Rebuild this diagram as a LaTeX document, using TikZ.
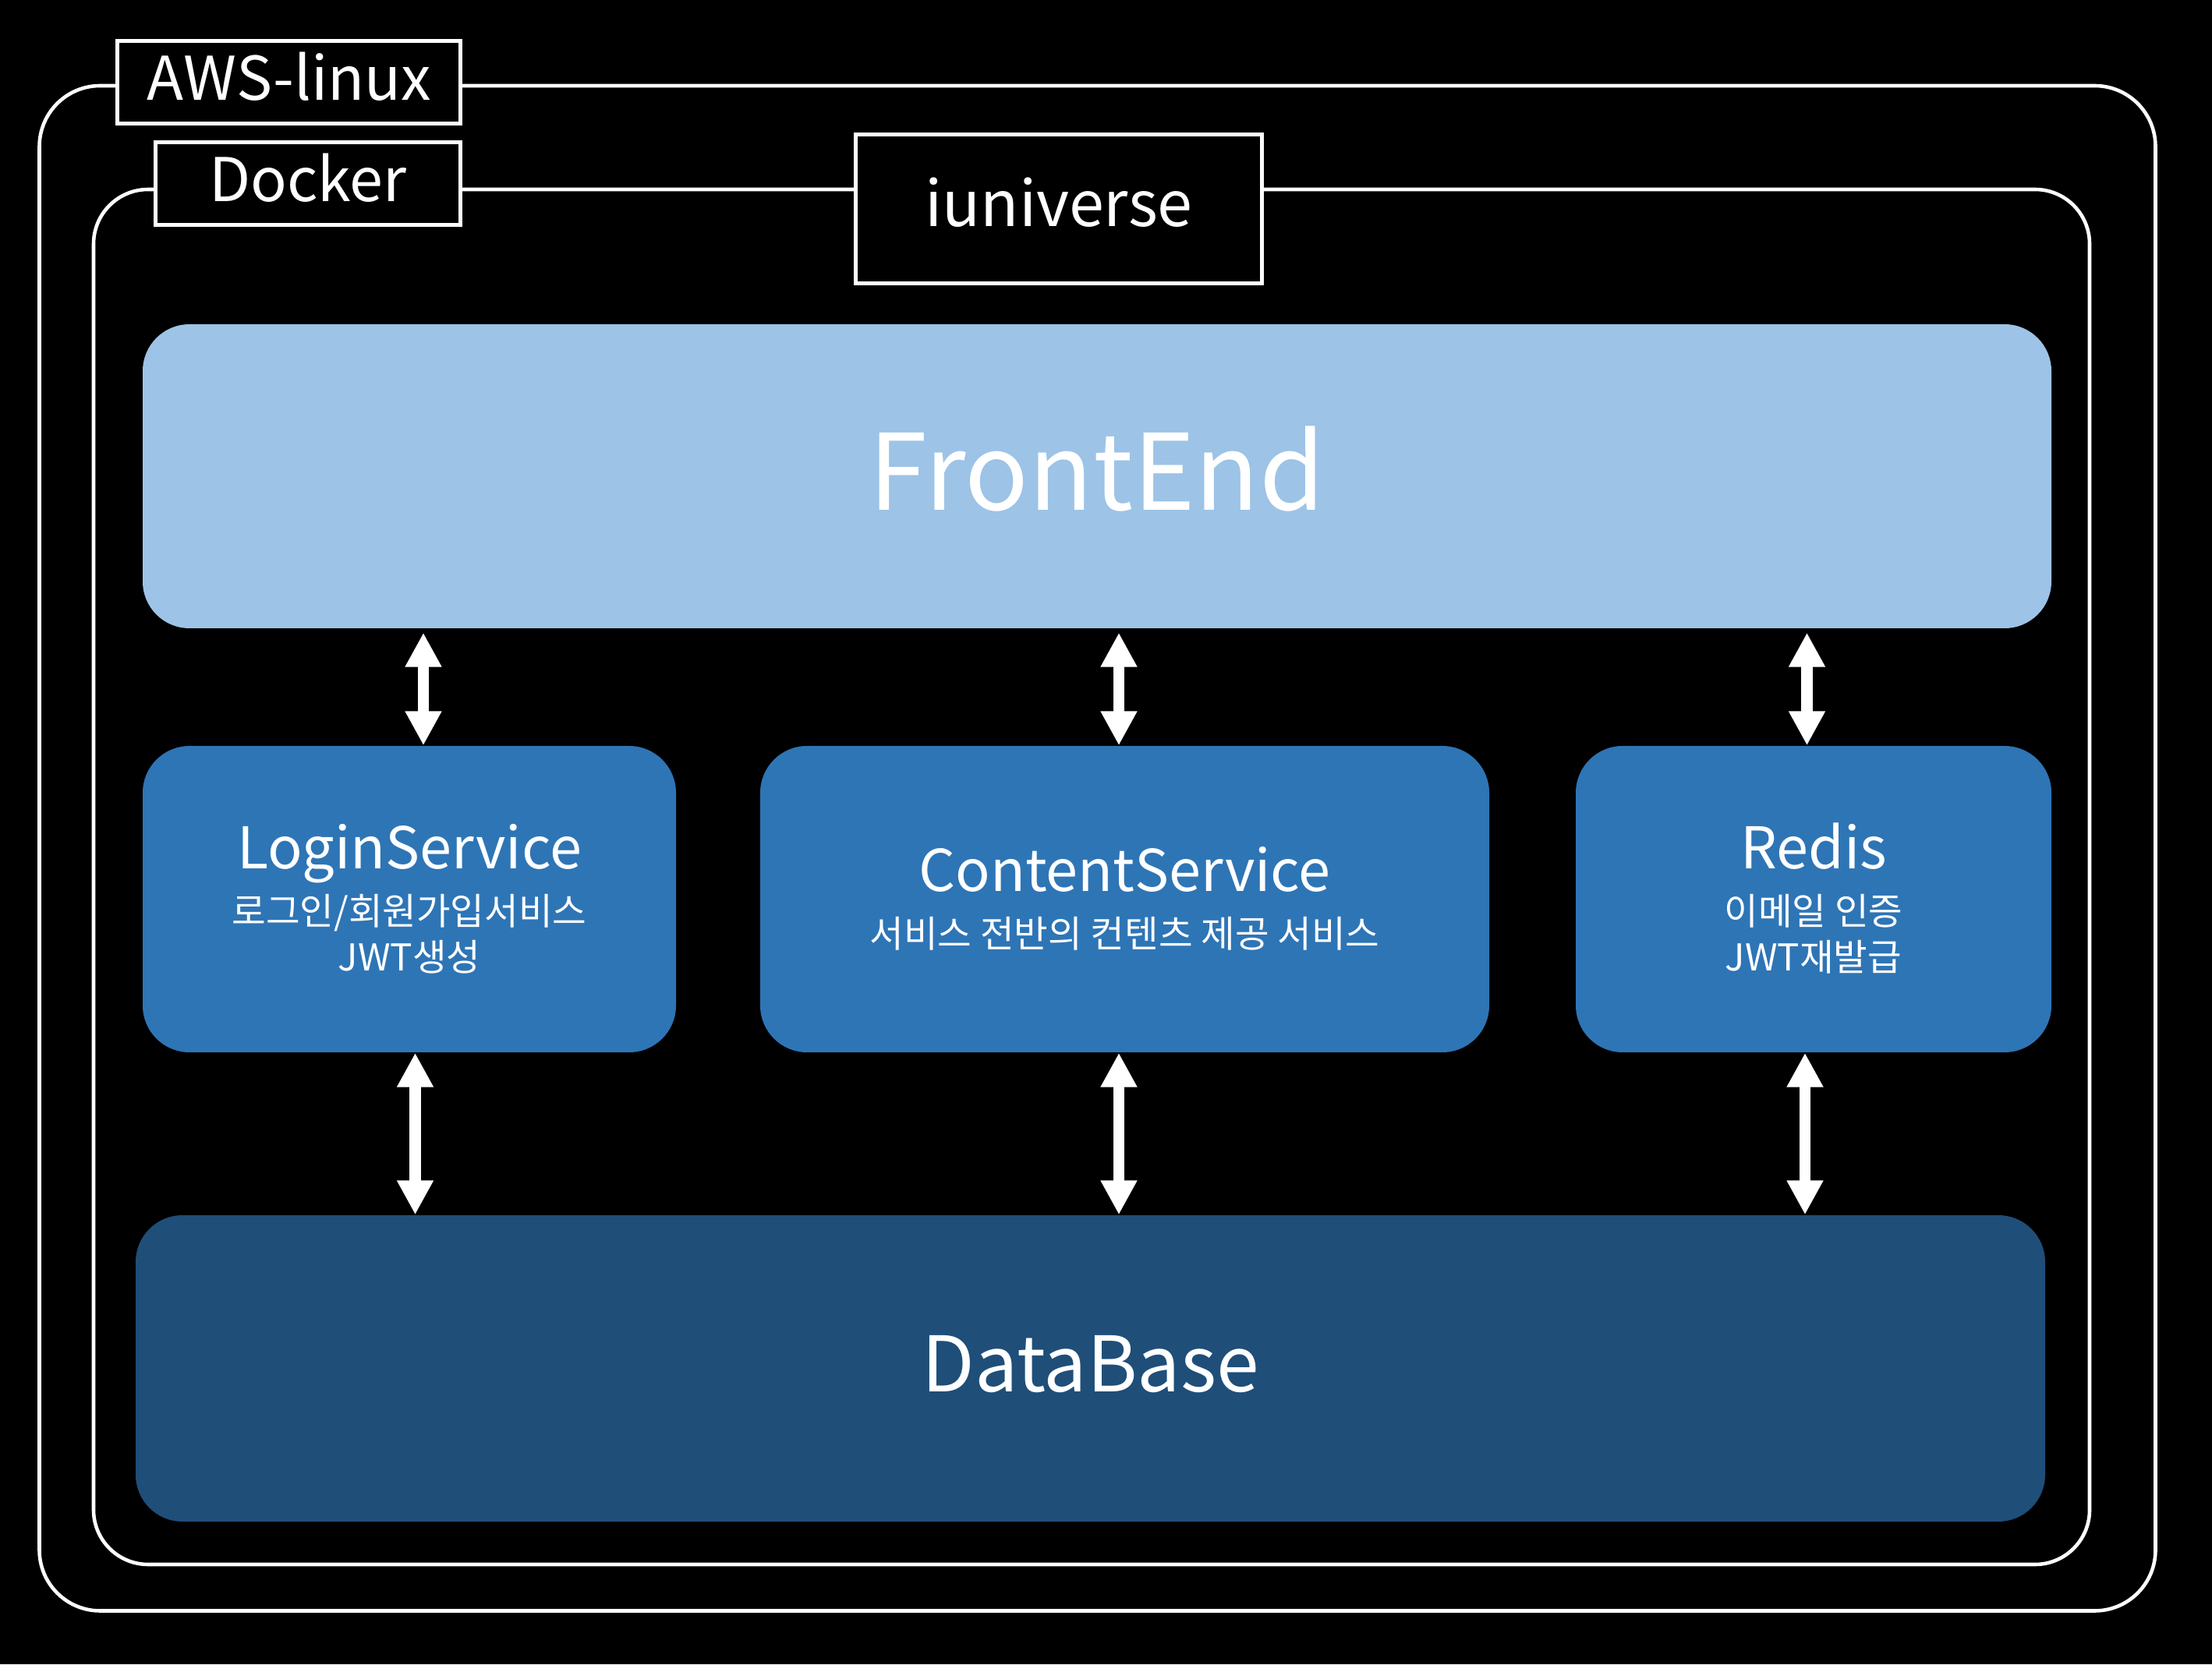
\documentclass[tikz,border=0pt]{standalone}
\usepackage{fontspec}
\setmainfont{Noto Sans CJK KR}
\usetikzlibrary{positioning,arrows.meta}
\definecolor{frontblue}{HTML}{9DC3E6}
\definecolor{svcblue}{HTML}{2E75B6}
\definecolor{dbblue}{HTML}{1F4E79}

\begin{document}
\begin{tikzpicture}[
    frame/.style={draw=white,line width=1.3pt},
    tag/.style={draw=white,fill=black,text=white,line width=1.3pt,inner sep=0pt,
        text height=15pt,text depth=2pt,font=\fontsize{22}{26}\selectfont},
    box/.style={draw=none,inner sep=0pt,rounded corners=0.6cm},
    title/.style={text=white,anchor=base,inner sep=0pt,font=\fontsize{21}{25}\selectfont},
    sub/.style={text=white,anchor=base,inner sep=0pt,font=\fontsize{13.5}{16}\selectfont},
    dbl/.style={{Triangle[width=12.5pt,length=12.5pt]}-{Triangle[width=12.5pt,length=12.5pt]},line width=4pt,white}
]
    \fill[black] (0,0) rectangle (28.37,21.35);
    \useasboundingbox (0,0) rectangle (28.37,21.35);

    \draw[frame,rounded corners=0.78cm] (0.505,0.685) rectangle (27.645,20.25);
    \draw[frame,rounded corners=0.70cm] (1.20,1.28) rectangle (26.80,18.92);
    \node[tag,minimum width=4.40cm,minimum height=1.065cm] (aws) at (3.7075,20.295) {AWS-linux};
    \node[tag,minimum width=3.915cm,minimum height=1.065cm] (docker) at (3.95,18.995) {Docker};
    \node[tag,minimum width=5.215cm,minimum height=1.915cm,font=\fontsize{23}{27}\selectfont] (iuniverse) at (13.58,18.67) {iuniverse};

    \node[box,fill=frontblue,minimum width=24.48cm,minimum height=3.90cm] (front) at (14.07,15.24) {};
    \node[box,fill=svcblue,minimum width=6.84cm,minimum height=3.93cm] (login) at (5.25,9.815) {};
    \node[box,fill=svcblue,minimum width=9.35cm,minimum height=3.93cm] (content) at (14.425,9.815) {};
    \node[box,fill=svcblue,minimum width=6.10cm,minimum height=3.93cm] (redis) at (23.26,9.815) {};
    \node[box,fill=dbblue,minimum width=24.49cm,minimum height=3.93cm] (db) at (13.985,3.795) {};

    \node[title,font=\fontsize{38.5}{44}\selectfont] (fronttxt) at ([yshift=-4.4mm]front.center) {FrontEnd};
    \node[title,font=\fontsize{28}{33}\selectfont] (dbtxt) at ([yshift=-3.0mm]db.center) {DataBase};

    \node[title] (logintxt) at ([yshift=3.85mm]login.center) {LoginService};
    \node[sub] (loginsub) at ([yshift=-3.35mm]login.center) {로그인/회원가입서비스};
    \node[sub] (loginjwt) at ([yshift=-9.25mm]login.center) {JWT생성};

    \node[title] (contenttxt) at ([yshift=0.95mm]content.center) {ContentService};
    \node[sub] (contentsub) at ([yshift=-6.25mm]content.center) {서비스 전반의 컨텐츠 제공 서비스};

    \node[title] (redistxt) at ([yshift=3.85mm]redis.center) {Redis};
    \node[sub] (redissub) at ([yshift=-3.35mm]redis.center) {이메일 인증};
    \node[sub] (redisjwt) at ([yshift=-9.25mm]redis.center) {JWT재발급};

    \draw[dbl] ([xshift=1.8mm,yshift=-0.5mm]login.north |- front.south) -- ([xshift=1.8mm]login.north);
    \draw[dbl] ([xshift=-0.75mm,yshift=-0.5mm]content.north |- front.south) -- ([xshift=-0.75mm]content.north);
    \draw[dbl] ([xshift=-0.85mm,yshift=-0.5mm]redis.north |- front.south) -- ([xshift=-0.85mm]redis.north);

    \draw[dbl] ([xshift=0.75mm]login.south) -- ([xshift=0.75mm]login.south |- db.north);
    \draw[dbl] ([xshift=-0.75mm]content.south) -- ([xshift=-0.75mm]content.south |- db.north);
    \draw[dbl] ([xshift=-1.1mm]redis.south) -- ([xshift=-1.1mm]redis.south |- db.north);
\end{tikzpicture}
\end{document}
